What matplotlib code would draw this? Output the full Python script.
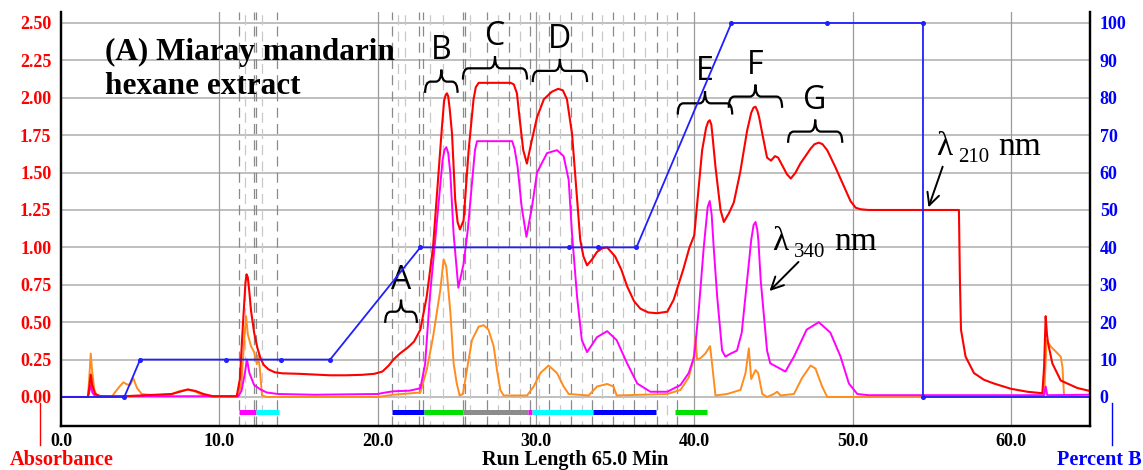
import matplotlib
matplotlib.use("Agg")
import matplotlib.pyplot as plt
from matplotlib.path import Path
from matplotlib.patches import PathPatch

# ---------------- data ----------------
# Absorbance at 210 nm
red_t = [0.0, 1.70, 1.78, 1.88, 1.97, 2.15, 2.5, 4.0, 5.0, 6.0, 7.0, 7.5, 8.0, 8.5, 9.0, 9.6,
         11.1, 11.3, 11.5, 11.65, 11.72, 11.8, 11.9, 12.0, 12.2, 12.4, 12.6, 12.8, 13.1, 13.5,
         14.0, 15.0, 16.0, 17.0, 18.0, 19.0, 19.8, 20.3, 20.7, 21.0, 21.4, 21.9, 22.3, 22.7,
         23.1, 23.5, 23.85, 24.06, 24.2, 24.3, 24.38, 24.46, 24.55, 24.7, 24.9, 25.05, 25.2,
         25.43, 25.75, 26.06, 26.2, 26.38, 28.4, 28.6, 28.8, 28.96, 29.2, 29.43, 29.75, 30.07,
         30.5, 31.0, 31.4, 31.7, 31.96, 32.28, 32.6, 32.8, 33.0, 33.23, 33.55, 33.86, 34.2,
         34.5, 35.0, 35.4, 35.76, 36.2, 36.6, 37.1, 37.65, 38.3, 38.7, 39.3, 39.7, 40.0, 40.5,
         40.75, 40.88, 40.98, 41.08, 41.15, 41.34, 41.66, 41.87, 42.2, 42.5, 42.9, 43.34, 43.6,
         43.75, 43.87, 44.0, 44.1, 44.3, 44.6, 44.85, 45.1, 45.3, 45.55, 45.85, 46.1, 46.4, 46.7,
         47.35, 47.6, 47.87, 48.1, 48.4, 48.9, 49.45, 49.87, 50.2, 50.5, 51.0, 56.6, 56.72, 56.78,
         56.85, 57.14, 57.67, 58.3, 58.93, 60.0, 61.04, 61.99, 62.1, 62.2, 62.28, 62.35, 62.62,
         63.15, 64.2, 65.0]
red_v = [0.0, 0.0, 0.06, 0.15, 0.08, 0.02, 0.005, 0.005, 0.01, 0.015, 0.02, 0.035, 0.05, 0.04,
         0.02, 0.005, 0.005, 0.12, 0.5, 0.76, 0.82, 0.8, 0.7, 0.58, 0.43, 0.33, 0.26, 0.215,
         0.185, 0.165, 0.158, 0.155, 0.15, 0.145, 0.145, 0.148, 0.155, 0.17, 0.21, 0.25, 0.29,
         0.33, 0.37, 0.45, 0.67, 1.0, 1.5, 1.8, 1.98, 2.02, 2.03, 2.01, 1.93, 1.76, 1.32, 1.17,
         1.12, 1.18, 1.65, 1.99, 2.07, 2.10, 2.10, 2.09, 2.03, 1.87, 1.65, 1.56, 1.72, 1.87,
         1.99, 2.04, 2.06, 2.05, 1.99, 1.76, 1.32, 1.05, 0.94, 0.88, 0.92, 0.97, 0.995, 1.0,
         0.94, 0.85, 0.74, 0.64, 0.59, 0.565, 0.56, 0.57, 0.65, 0.85, 1.0, 1.08, 1.65, 1.8, 1.84,
         1.85, 1.82, 1.75, 1.54, 1.25, 1.17, 1.23, 1.30, 1.50, 1.78, 1.9, 1.935, 1.94, 1.91, 1.87,
         1.76, 1.60, 1.58, 1.61, 1.60, 1.55, 1.49, 1.46, 1.5, 1.56, 1.66, 1.69, 1.70, 1.69, 1.65,
         1.54, 1.41, 1.31, 1.265, 1.255, 1.25, 1.25, 1.25, 0.8, 0.45, 0.27, 0.16, 0.115, 0.09,
         0.055, 0.035, 0.025, 0.2, 0.54, 0.42, 0.36, 0.225, 0.11, 0.06, 0.04]

# Absorbance at 340 nm
mag_t = [0.0, 1.7, 1.8, 1.88, 1.98, 2.15, 11.2, 11.4, 11.6, 11.75, 11.9, 12.2, 12.6, 13.0, 13.7,
         16.0, 20.0, 20.5, 21.0, 22.0, 22.7, 23.0, 23.3, 23.64, 23.9, 24.1, 24.22, 24.34, 24.46,
         24.59, 24.8, 25.1, 25.43, 25.7, 25.96, 26.15, 26.28, 28.5, 28.65, 28.84, 29.1, 29.4,
         29.75, 30.07, 30.7, 31.33, 31.75, 32.07, 32.28, 32.6, 32.9, 33.23, 33.86, 34.5, 35.1,
         35.76, 36.4, 37.23, 38.3, 39.13, 39.65, 40.0, 40.3, 40.6, 40.85, 40.98, 41.1, 41.23,
         41.45, 41.76, 41.97, 42.3, 42.7, 43.0, 43.34, 43.6, 43.75, 43.87, 43.98, 44.05, 44.2,
         44.6, 44.8, 45.24, 45.76, 46.3, 47.1, 47.87, 48.6, 49.24, 49.77, 50.3, 51.0, 62.1, 62.2,
         62.3, 65.0]
mag_v = [0.0, 0.0, 0.04, 0.08, 0.03, 0.005, 0.005, 0.04, 0.15, 0.25, 0.16, 0.08, 0.05, 0.03,
         0.02, 0.015, 0.02, 0.03, 0.038, 0.042, 0.058, 0.22, 0.67, 1.05, 1.35, 1.58, 1.65, 1.67,
         1.63, 1.50, 1.09, 0.73, 0.89, 1.12, 1.43, 1.65, 1.71, 1.71, 1.66, 1.54, 1.27, 1.07, 1.27,
         1.50, 1.63, 1.65, 1.61, 1.45, 1.09, 0.67, 0.38, 0.30, 0.40, 0.44, 0.38, 0.225, 0.09,
         0.035, 0.035, 0.08, 0.16, 0.27, 0.60, 1.0, 1.27, 1.31, 1.22, 1.0, 0.67, 0.31, 0.27,
         0.29, 0.31, 0.43, 0.78, 1.05, 1.15, 1.17, 1.12, 1.05, 0.78, 0.31, 0.225, 0.20, 0.17,
         0.27, 0.45, 0.50, 0.43, 0.27, 0.09, 0.02, 0.012, 0.012, 0.07, 0.012, 0.015]

# Third detector channel
org_t = [0.0, 1.7, 1.78, 1.88, 1.96, 2.1, 2.3, 3.2, 3.4, 3.7, 3.94, 4.15, 4.36, 4.57, 4.8, 5.1,
         6.0, 7.0, 7.5, 8.05, 8.5, 9.0, 9.5, 11.2, 11.4, 11.6, 11.69, 11.8, 12.0, 12.2, 12.37,
         12.45, 12.55, 12.7, 13.0, 20.0, 21.0, 22.7, 23.1, 23.5, 23.96, 24.17, 24.34, 24.6, 24.8,
         25.0, 25.18, 25.39, 25.64, 25.96, 26.38, 26.7, 27.0, 27.33, 27.54, 27.75, 27.96, 29.44,
         29.86, 30.28, 30.8, 31.33, 31.75, 32.07, 33.33, 33.86, 34.5, 34.9, 35.1, 38.3, 39.13,
         39.65, 39.95, 40.08, 40.18, 40.4, 40.7, 41.0, 41.13, 41.34, 42.08, 42.92, 43.24, 43.45,
         43.6, 43.87, 44.04, 44.3, 44.6, 45.03, 45.24, 45.45, 46.3, 46.8, 47.35, 47.66, 48.08,
         48.4, 62.1, 62.26, 62.5, 63.15, 63.26, 63.36, 65.0]
org_v = [0.0, 0.0, 0.12, 0.29, 0.18, 0.05, 0.0, 0.0, 0.03, 0.07, 0.098, 0.085, 0.08, 0.125, 0.06,
         0.02, 0.01, 0.02, 0.04, 0.05, 0.035, 0.01, 0.0, 0.0, 0.1, 0.42, 0.54, 0.42, 0.34, 0.30,
         0.22, 0.28, 0.2, 0.01, 0.0, 0.0, 0.015, 0.03, 0.18, 0.40, 0.715, 0.92, 0.87, 0.56, 0.225,
         0.09, 0.01, 0.02, 0.18, 0.38, 0.47, 0.48, 0.45, 0.34, 0.18, 0.047, 0.01, 0.01, 0.07,
         0.16, 0.21, 0.16, 0.07, 0.02, 0.01, 0.07, 0.087, 0.07, 0.01, 0.02, 0.047, 0.13, 0.25,
         0.40, 0.25, 0.26, 0.29, 0.34, 0.22, 0.01, 0.02, 0.047, 0.16, 0.325, 0.12, 0.18, 0.16,
         0.02, 0.0, 0.02, 0.035, 0.01, 0.02, 0.125, 0.21, 0.19, 0.07, 0.0, 0.0, 0.38, 0.34, 0.27,
         0.20, 0.01, 0.0]

# Gradient program (% B)
grad_t = [0.0, 4.0, 5.0, 10.45, 13.9, 17.0, 22.7, 32.1, 33.9, 36.35, 42.35, 48.4, 54.45, 54.45, 65.0]
grad_b = [0, 0, 10, 10, 10, 10, 40, 40, 40, 40, 100, 100, 100, 0, 0]

# Fraction collector bars: start, end, colour
frac_start = [11.25, 12.33, 20.9, 22.9, 25.4, 29.5, 29.75, 33.6, 38.8]
frac_end = [12.33, 13.74, 22.9, 25.4, 29.5, 29.75, 33.6, 37.6, 40.8]
frac_color = ["#ff00ff", "#00ffff", "#0000ff", "#00e000", "#8c8c8c", "#ff00ff", "#00ffff",
              "#0000ff", "#00e000"]

# Fraction cut marks
cut_dark = [11.27, 12.2, 12.33, 13.67, 20.9, 22.6, 22.86, 25.4, 25.5, 26.9, 28.3, 29.65, 30.8,
            32.2, 33.55, 34.9, 36.2, 37.65, 38.9]
cut_light = [11.6, 12.7, 21.3, 21.75, 23.3, 24.1, 25.85, 27.6, 29.0, 30.2, 31.5, 32.9, 34.2,
             35.5, 36.9, 38.3]

# Peak-group brackets: label, left, right, level
grp_label = ["A", "B", "C", "D", "E", "F", "G"]
grp_left = [20.48, 23.0, 25.39, 29.8, 38.96, 42.18, 45.93]
grp_right = [22.48, 25.05, 29.44, 33.23, 42.4, 45.55, 49.35]
grp_level = [0.57, 2.108, 2.197, 2.18, 1.963, 2.008, 1.774]

# --------------- figure ---------------
W, H = 1143, 470
fig = plt.figure(figsize=(W / 100, H / 100), dpi=100)
ax = fig.add_axes([61 / W, 1 - 426 / H, (1090 - 61) / W, (426 - 12) / H])
ax2 = ax.twinx()

YMIN, YMAX = -0.194, 2.5735
ax.set_xlim(0, 65)
ax.set_ylim(YMIN, YMAX)
ax2.set_ylim(YMIN * 40, YMAX * 40)

serif = "Liberation Serif"
tick_kw = dict(family=serif, weight="bold", size=13)

ax.set_yticks([i * 0.25 for i in range(11)])
ax.set_yticklabels([f"{i * 0.25:.2f}" for i in range(11)], color="#ff0000", **tick_kw)
ax.set_xticks([0, 10, 20, 30, 40, 50, 60])
ax.set_xticklabels([f"{v:.1f}" for v in range(0, 70, 10)], color="black", **tick_kw)
ax2.set_yticks(list(range(0, 101, 10)))
ax2.set_yticklabels([str(v) for v in range(0, 101, 10)], color="#0000ff", **tick_kw)
ax.tick_params(axis="both", length=0)
ax.tick_params(axis="y", pad=7)
ax.tick_params(axis="x", pad=5)
ax2.tick_params(axis="y", length=0, pad=7)

ax.spines["top"].set_visible(False)
ax2.spines["top"].set_visible(False)
for a in (ax, ax2):
    for sp in ("left", "bottom", "right"):
        a.spines[sp].set_linewidth(1.6)
        a.spines[sp].set_color("black")

# grid
for v in [i * 0.25 for i in range(11)]:
    ax.axhline(v, color="#b4b4b4", lw=1.2, zorder=0.5)
for v in range(10, 61, 10):
    ax.axvline(v, color="#9a9a9a", lw=0.9, zorder=0.6)
for v in cut_dark:
    ax.axvline(v, color="#8a8a8a", lw=0.9, ls=(0, (8, 5)), zorder=0.7)
for v in cut_light:
    ax.axvline(v, color="#c8c8c8", lw=0.9, ls=(4, (8, 5)), zorder=0.7)

# fraction bars
for s, e, c in zip(frac_start, frac_end, frac_color):
    ax.plot([s, e], [-0.1, -0.1], color=c, lw=3.6, solid_capstyle="butt", zorder=3)

# traces
line_kw = dict(solid_joinstyle="round", antialiased=True)
ax.plot(org_t, org_v, color="#ff8c1e", lw=1.4, zorder=3, **line_kw)
ax.plot(mag_t, mag_v, color="#ff00ff", lw=1.4, zorder=3.2, **line_kw)
ax.plot(red_t, red_v, color="#ff0000", lw=1.5, zorder=3.4, **line_kw)
ax2.plot(grad_t, grad_b, color="#1f1fff", lw=1.3, zorder=2)
ax2.plot(grad_t[1:-1], grad_b[1:-1], ls="none", marker="o", ms=2.6, color="#1f1fff", zorder=2)
ax2.set_zorder(ax.get_zorder() + 1)
ax2.patch.set_visible(False)


def brace(a, x0, x1, y, drop, rise, r):
    xm = (x0 + x1) / 2
    verts = [(x0, y - drop), (x0, y), (x0 + r, y),
             (xm - r, y), (xm, y), (xm, y + rise),
             (xm, y), (xm + r, y),
             (x1 - r, y), (x1, y), (x1, y - drop)]
    codes = [Path.MOVETO, Path.CURVE3, Path.CURVE3,
             Path.LINETO, Path.CURVE3, Path.CURVE3,
             Path.CURVE3, Path.CURVE3,
             Path.LINETO, Path.CURVE3, Path.CURVE3]
    a.add_patch(PathPatch(Path(verts, codes), fill=False, lw=1.6, color="black",
                          zorder=5, clip_on=False))


for lab, x0, x1, y in zip(grp_label, grp_left, grp_right, grp_level):
    brace(ax, x0, x1, y, 0.075, 0.08, 0.35)
    ax.text((x0 + x1) / 2, y + 0.21, lab, ha="center", va="center", family="Open Sans",
            size=23, color="black", zorder=6)

# title
ax.text(2.75, 2.19, "(A) Miaray mandarin\nhexane extract", family=serif, weight="bold",
        size=22.5, ha="left", va="center", linespacing=1.22, zorder=6)

# wavelength labels
def lam(t, v, sub):
    ax.text(t, v, "\u03bb", family=serif, size=24, ha="left", va="baseline", zorder=6)
    ax.text(t + 1.35, v - 0.045, sub, family=serif, size=15, ha="left", va="baseline", zorder=6)
    ax.text(t + 3.9, v, "nm", family=serif, size=24, ha="left", va="baseline", zorder=6)


lam(55.31, 1.618, "210")
lam(44.92, 0.98, "340")
ax.annotate("", xy=(54.74, 1.25), xytext=(55.75, 1.557),
            arrowprops=dict(arrowstyle="->", lw=1.4, color="black", mutation_scale=22), zorder=6)
ax.annotate("", xy=(44.63, 0.695), xytext=(46.71, 0.916),
            arrowprops=dict(arrowstyle="->", lw=1.4, color="black", mutation_scale=22), zorder=6)

# axis captions
cap_kw = dict(family=serif, weight="bold", size=14.6, va="center", ha="center")
fig.text(575 / W, 1 - 460 / H, "Run Length 65.0 Min", **cap_kw)
fig.text(62 / W, 1 - 460 / H, "Absorbance", color="#ff0000", **cap_kw)
fig.text(1099 / W, 1 - 460 / H, "Percent B", color="#0000ff", **cap_kw)
fig.add_artist(plt.Line2D([39.5 / W, 39.5 / W], [1 - 403 / H, 1 - 445 / H], color="#ff0000", lw=1))
fig.add_artist(plt.Line2D([1112 / W, 1112 / W], [1 - 403 / H, 1 - 445 / H], color="#0000ff", lw=1))

fig.savefig("out.png", dpi=100)
